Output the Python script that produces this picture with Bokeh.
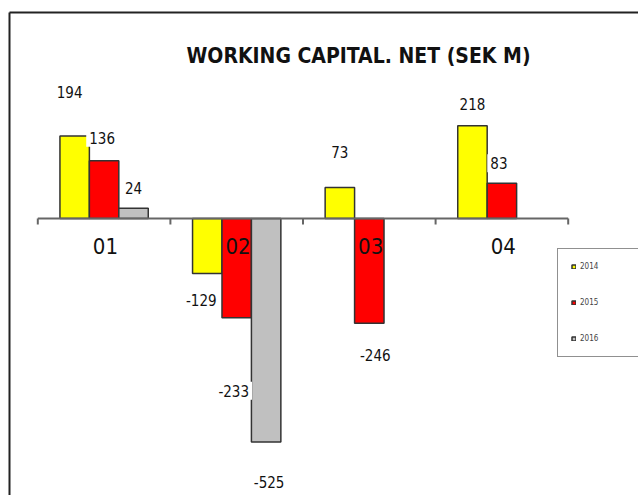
import numpy as np
from bokeh.plotting import figure
from bokeh.models import ColumnDataSource, Range1d, Legend, LegendItem
from bokeh.core.properties import value
from bokeh.embed import file_html
from bokeh.resources import INLINE

# ---- data ----
quarters = ["01", "02", "03", "04"]
years = ["2014", "2015", "2016"]
v2014 = [194, -129, 73, 218]
v2015 = [136, -233, -246, 83]
v2016 = [24, -525, None, None]
title_text = "WORKING CAPITAL. NET (SEK M)"

# ---- style ----
colors = ["#FFFF00", "#FF0000", "#C0C0C0"]
label_gap = [[44, 27, 35, 22], [23, 73, 32, 20], [20, 40, 0, 0]]   # px beyond bar end
label_dx = [[-5, -6, 0, 0], [-2, -3, 6, -3], [0, 3, 0, 0]]          # px
FONT = "DejaVu Sans Condensed"
W, H = 638, 495
X0_PX, STEP_PX = 103.6, 132.6      # first category centre, category width (px)
BASE_PX, UPP = 218, 2.35           # baseline (px from top), value units per px
BW = 0.222                         # bar width in category units

def px2x(px):
    return (px - X0_PX) / STEP_PX

def px2y(py):
    return (BASE_PX - py) * UPP

p = figure(width=W, height=H, output_backend="svg", toolbar_location=None,
           x_range=Range1d(px2x(0), px2x(W)), y_range=Range1d(px2y(H), px2y(0)),
           x_axis_type=None, y_axis_type=None,
           min_border=0, min_border_left=0, min_border_right=0,
           min_border_top=0, min_border_bottom=0)
p.grid.visible = False
p.outline_line_color = None
p.background_fill_color = "white"
p.border_fill_color = "white"

# outer frame lines (left and top)
p.segment(x0=[px2x(9), px2x(9)], y0=[px2y(12), px2y(12)],
          x1=[px2x(9), px2x(W + 5)], y1=[px2y(H + 5), px2y(12)],
          line_color="#222", line_width=2)

series = [v2014, v2015, v2016]
idx = np.arange(len(quarters), dtype=float)
renderers = []
for j, vals in enumerate(series):
    arr = np.array([np.nan if v is None else v for v in vals], dtype=float)
    xs = idx + (j - 1) * BW
    src = ColumnDataSource(dict(x=xs, top=arr))
    r = p.vbar(x="x", top="top", bottom=0, width=BW, source=src,
               fill_color=colors[j], line_color="#333", line_width=1.5)
    renderers.append(r)

# baseline + ticks
p.segment(x0=[-0.5], y0=[0], x1=[len(quarters) - 0.5], y1=[0], line_color="#666", line_width=2)
tick_x = np.arange(len(quarters) + 1) - 0.5
p.segment(x0=tick_x, y0=np.zeros_like(tick_x), x1=tick_x, y1=np.full_like(tick_x, -6 * UPP),
          line_color="#666", line_width=2)

# category labels
p.text(x=idx + 0.01, y=np.full_like(idx, px2y(245)), text=quarters,
       text_font=value(FONT), text_font_size="22px", text_color="#111",
       text_align="center", text_baseline="middle")

# data labels
for j, vals in enumerate(series):
    xs, ys, ts, yo, xo = [], [], [], [], []
    for i, v in enumerate(vals):
        if v is None:
            continue
        xs.append(i + (j - 1) * BW)
        ys.append(v)
        ts.append(str(v))
        yo.append(-label_gap[j][i] if v >= 0 else label_gap[j][i])
        xo.append(label_dx[j][i])
    src = ColumnDataSource(dict(x=xs, y=ys, t=ts, yo=yo, xo=xo))
    p.text(x="x", y="y", text="t", x_offset="xo", y_offset="yo", source=src,
           text_font=value(FONT), text_font_size="15px", text_color="#111",
           text_align="center", text_baseline="middle",
           background_fill_color="white", padding=3)

# title
p.text(x=[px2x(358)], y=[px2y(55)], text=[title_text], text_font=value(FONT),
       text_font_size="21px", text_font_style="bold", text_color="#111",
       text_align="center", text_baseline="middle")

legend = Legend(items=[LegendItem(label=y, renderers=[r]) for y, r in zip(years, renderers)],
                location=(557, H - 357), padding=13, spacing=27, margin=0,
                glyph_width=5, glyph_height=5, label_height=8, label_width=47,
                label_standoff=4, label_text_font=FONT, label_text_font_size="8px",
                border_line_color="#222", border_line_width=1.5,
                background_fill_color="white", background_fill_alpha=1)
p.add_layout(legend)

open("out.html", "w").write(file_html(p, INLINE))
